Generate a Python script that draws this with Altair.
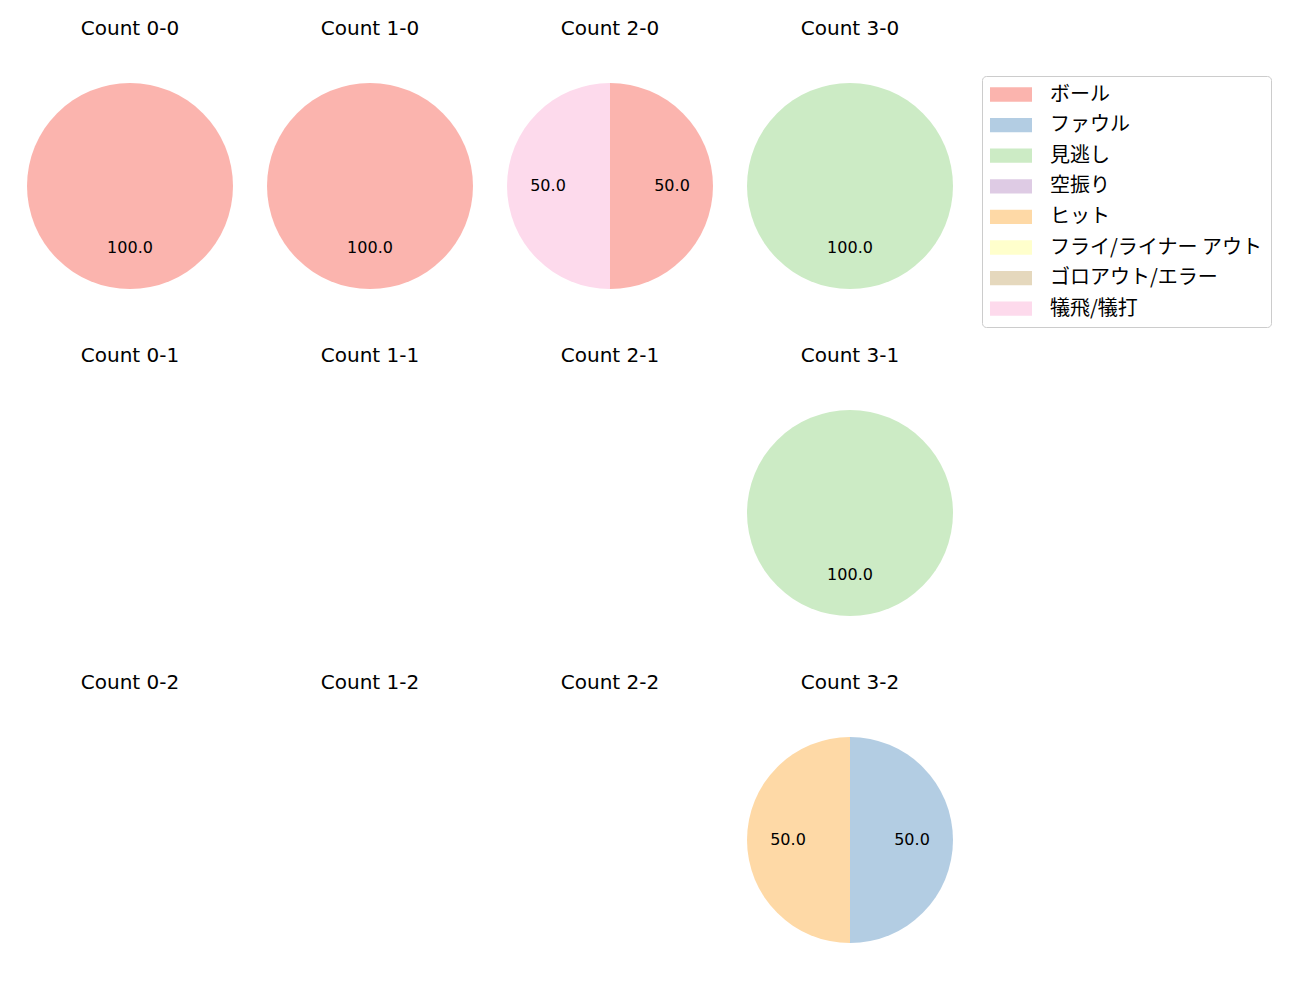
import altair as alt
import pandas as pd

categories = ["ボール", "ファウル", "見逃し", "空振り", "ヒット",
              "フライ/ライナー アウト", "ゴロアウト/エラー", "犠飛/犠打"]
colors = ["#fbb4ae", "#b3cde3", "#ccebc5", "#decbe4", "#fed9a6",
          "#ffffcc", "#e5d8bd", "#fddaec"]

balls = [0, 1, 2, 3]
strikes = [0, 1, 2]

rec_count = ["0-0", "1-0", "2-0", "2-0", "3-0", "3-1", "3-2", "3-2"]
rec_cat = ["ボール", "ボール", "ボール", "犠飛/犠打", "見逃し", "見逃し", "ファウル", "ヒット"]
rec_pct = [100.0, 100.0, 50.0, 50.0, 100.0, 100.0, 50.0, 50.0]

df = pd.DataFrame({"count": rec_count, "cat": rec_cat, "pct": rec_pct})
df["order"] = df["cat"].map(categories.index)
df["label"] = df["pct"].map(lambda v: f"{v:.1f}")

CJK = "Noto Sans CJK JP"
LATIN = "DejaVu Sans"

color_enc = alt.Color(
    "cat:N",
    scale=alt.Scale(domain=categories, range=colors),
    legend=alt.Legend(
        title=None,
        orient="none",
        legendX=972,
        legendY=20,
        symbolType="M-1,-0.68H3V0.68H-1Z",
        symbolSize=441,
        symbolStrokeWidth=0,
        labelFont=CJK,
        labelFontSize=20,
        labelColor="#000000",
        labelOffset=39,
        rowPadding=9.6,
        padding=8,
        strokeColor="#cccccc",
        cornerRadius=4,
        labelLimit=400,
    ),
)


def panel(c):
    base = alt.Chart(df, title=alt.Title(f"Count {c}")).transform_filter(
        alt.datum["count"] == c
    ).encode(
        theta=alt.Theta("pct:Q", stack=True),
        order=alt.Order("order:Q"),
    )
    arcs = base.mark_arc(outerRadius=103).encode(color=color_enc)
    text = base.mark_text(radius=62, fontSize=16, font=LATIN, color="#000000").encode(
        text="label:N"
    )
    return (arcs + text).properties(width=240, height=260)


rows = []
for s in strikes:
    rows.append(alt.hconcat(*[panel(f"{b}-{s}") for b in balls], spacing=0))

chart = alt.vconcat(*rows, spacing=30).properties(
    padding={"left": 2, "top": 11, "right": 2, "bottom": 2}
).configure_view(stroke=None).configure_title(
    font=LATIN, fontSize=20, fontWeight="normal", color="#000000", offset=17, anchor="middle"
)

chart.save("out.html", embed_options={"renderer": "svg", "actions": False})
